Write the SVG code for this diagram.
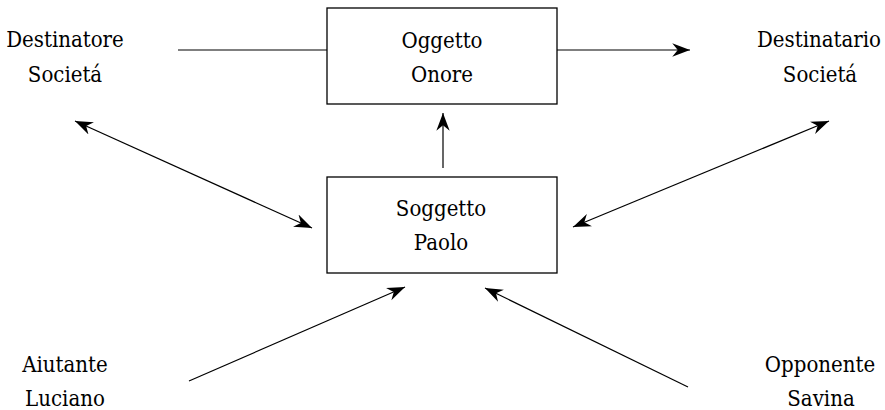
<svg xmlns="http://www.w3.org/2000/svg" width="885" height="410" viewBox="0 0 885 410">
<style>
.t{font-family:'DejaVu Serif Condensed','DejaVu Serif',serif;font-stretch:condensed;font-size:22px;fill:#000;text-anchor:middle}
.box{fill:#fff;stroke:#000;stroke-width:1.3}
.c{stroke:#000;stroke-width:1.2;fill:none}
</style>
<defs>
<marker id="ah" markerUnits="userSpaceOnUse" markerWidth="20" markerHeight="20" refX="0" refY="0" viewBox="-16 -8 18 16" orient="auto-start-reverse">
<path d="M0,0 L-16,-6 L-11,0 L-16,6 Z" fill="#000"/>
</marker>
</defs>
<rect width="885" height="410" fill="#fff"/>
<g id="connectors">
<line class="c" x1="178" y1="50" x2="327" y2="50"/>
<line class="c" x1="557" y1="50" x2="690" y2="50" marker-end="url(#ah)"/>
<line class="c" x1="443" y1="168" x2="443" y2="113" marker-end="url(#ah)"/>
<line class="c" x1="75" y1="121" x2="312" y2="228" marker-start="url(#ah)" marker-end="url(#ah)"/>
<line class="c" x1="573" y1="227" x2="829" y2="121" marker-start="url(#ah)" marker-end="url(#ah)"/>
<line class="c" x1="189" y1="381" x2="405" y2="287" marker-end="url(#ah)"/>
<line class="c" x1="688" y1="387" x2="485" y2="288" marker-end="url(#ah)"/>
</g>
<g id="oggetto">
<rect class="box" x="327" y="8" width="230" height="96"/>
<text class="t" x="442" y="48">Oggetto</text>
<text class="t" x="442" y="82">Onore</text>
</g>
<g id="soggetto">
<rect class="box" x="327" y="177" width="230" height="96"/>
<text class="t" x="441" y="216">Soggetto</text>
<text class="t" x="441" y="250">Paolo</text>
</g>
<g id="destinatore">
<text class="t" x="65" y="47">Destinatore</text>
<text class="t" x="65" y="82">Societá</text>
</g>
<g id="destinatario">
<text class="t" x="819" y="47">Destinatario</text>
<text class="t" x="820" y="82">Societá</text>
</g>
<g id="aiutante">
<text class="t" x="65" y="372">Aiutante</text>
<text class="t" x="65" y="406">Luciano</text>
</g>
<g id="opponente">
<text class="t" x="820" y="372">Opponente</text>
<text class="t" x="821" y="406">Savina</text>
</g>
</svg>
